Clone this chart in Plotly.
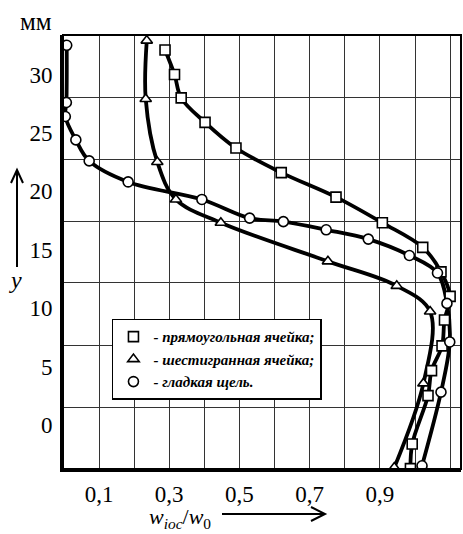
import plotly.graph_objects as go

# ---- data ----
sq_x = [0.288, 0.315, 0.334, 0.402, 0.490, 0.619, 0.775, 0.907, 1.022, 1.074, 1.100, 1.084, 1.077, 1.047, 1.037, 0.992, 0.987]
sq_y = [32.1, 30.0, 28.0, 25.9, 23.7, 21.6, 19.5, 17.3, 15.2, 13.1, 11.0, 8.98, 6.76, 4.64, 2.50, -1.64, -3.75]

tri_x = [0.236, 0.233, 0.266, 0.319, 0.447, 0.752, 0.948, 1.043, 1.024, 0.941]
tri_y = [32.9, 27.9, 22.5, 19.3, 17.3, 14.0, 11.9, 9.7, 3.55, -3.66]

cir_x = [0.008, 0.007, 0.004, 0.034, 0.072, 0.183, 0.393, 0.529, 0.625, 0.747, 0.867, 0.984, 1.064, 1.091, 1.099, 1.074, 1.020]
cir_y = [32.5, 27.6, 26.4, 24.4, 22.6, 20.8, 19.3, 17.7, 17.4, 16.7, 15.9, 14.5, 13.0, 10.4, 7.1, 2.8, -3.5]

names = ["- прямоугольная ячейка;", "- шестигранная ячейка;", "- гладкая щель."]

x_ticks = [0.1, 0.3, 0.5, 0.7, 0.9]
x_ticktext = ["0,1", "0,3", "0,5", "0,7", "0,9"]
x_grid = [0.1, 0.2, 0.3, 0.4, 0.5, 0.6, 0.7, 0.8, 0.9, 1.0, 1.1]
y_ticks = [0, 5, 10, 15, 20, 25, 30]
y_grid = [1.50, 6.76, 12.15, 17.40, 22.68, 28.01]

SERIF = "Liberation Serif"

# page geometry (pixels) -> paper coordinates for decorations
ML, MR, MT, MB, W, H = 63, 2, 35, 65, 463, 534
PW, PH = W - ML - MR, H - MT - MB
def px(x):
    return (x - ML) / PW
def py(y):
    return (H - MB - y) / PH

fig = go.Figure()
series = [(sq_x, sq_y, "square"), (tri_x, tri_y, "triangle-up"), (cir_x, cir_y, "circle")]
for xs, ys, sym in series:
    fig.add_trace(go.Scatter(x=xs, y=ys, mode="lines",
                             line=dict(color="black", width=3.8, shape="spline", smoothing=1.0),
                             showlegend=False, hoverinfo="skip"))
for (xs, ys, sym), nm in zip(series, names):
    fig.add_trace(go.Scatter(x=xs, y=ys, mode="markers", name="<b><i>" + nm + "</i></b>",
                             marker=dict(symbol=sym, size=10, color="white",
                                         line=dict(color="black", width=1.6))))

arrow_line = dict(color="black", width=2)
shapes = [
    dict(type="rect", xref="paper", yref="paper", x0=0, x1=1, y0=0, y1=1,
         line=dict(color="black", width=2), layer="above"),
    # vertical arrow (y direction)
    dict(type="line", xref="paper", yref="paper", x0=px(17), x1=px(17), y0=py(267), y1=py(171), line=arrow_line),
    dict(type="path", xref="paper", yref="paper",
         path=f"M{px(11)},{py(183)} L{px(17)},{py(170)} L{px(23)},{py(183)}", line=arrow_line),
    # horizontal arrow (x direction)
    dict(type="line", xref="paper", yref="paper", x0=px(222), x1=px(324), y0=py(514), y1=py(514), line=arrow_line),
    dict(type="path", xref="paper", yref="paper",
         path=f"M{px(311)},{py(507)} L{px(325)},{py(514)} L{px(311)},{py(521)}", line=arrow_line),
]

fig.update_layout(
    width=W, height=H,
    margin=dict(l=ML, r=MR, t=MT, b=MB),
    paper_bgcolor="white", plot_bgcolor="white",
    font=dict(family=SERIF, color="black"),
    legend=dict(x=0.123, y=0.346, xanchor="left", yanchor="top",
                bgcolor="white", bordercolor="black", borderwidth=1.5,
                font=dict(family=SERIF, size=15, color="black"),
                itemwidth=30, tracegroupgap=0),
    xaxis=dict(range=[-0.0026, 1.131], tickvals=x_ticks, ticktext=x_ticktext, showgrid=False, zeroline=False,
               showline=True, linecolor="black", linewidth=3, ticks="", ticklabelstandoff=2,
               tickfont=dict(family=SERIF, size=23, color="black"),
               minor=dict(tickvals=x_grid, showgrid=True, gridcolor="#333", gridwidth=1, ticks="")),
    yaxis=dict(range=[-3.78, 33.38], tickvals=y_ticks, showgrid=False, zeroline=False,
               showline=True, linecolor="black", linewidth=3, ticks="", ticklabelstandoff=3,
               tickfont=dict(family=SERIF, size=23, color="black"),
               minor=dict(tickvals=y_grid, showgrid=True, gridcolor="#333", gridwidth=1, ticks="")),
    shapes=shapes,
    annotations=[
        dict(text="мм", xref="paper", yref="paper", x=px(36), y=py(22), showarrow=False,
             xanchor="center", yanchor="middle",
             font=dict(family=SERIF, size=25, color="black")),
        dict(text="<i>y</i>", xref="paper", yref="paper", x=px(15), y=py(280), showarrow=False,
             xanchor="center", yanchor="middle",
             font=dict(family=SERIF, size=24, color="black")),
        dict(text="<i>w</i><sub><i>ioc</i></sub>/<i>w</i><sub>0</sub>", xref="paper", yref="paper",
             x=px(180), y=py(518), showarrow=False, xanchor="center", yanchor="middle",
             font=dict(family=SERIF, size=22, color="black")),
    ],
)

fig.write_html("out.html", config={"displayModeBar": False},
               post_script="document.body.style.margin='0';document.body.style.padding='0';")
